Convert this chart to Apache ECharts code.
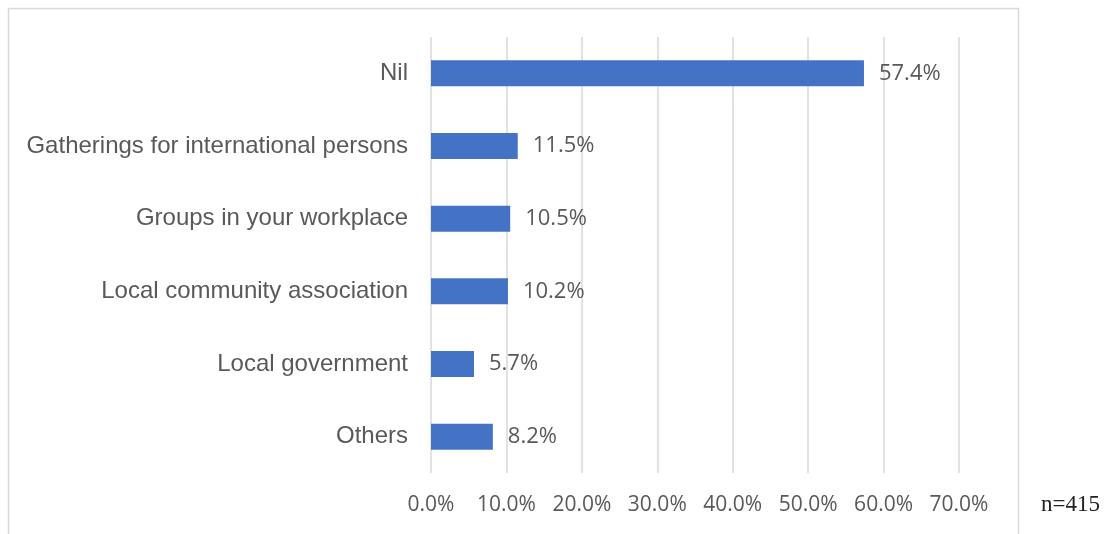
<!DOCTYPE html>
<html>
<head>
<meta charset="utf-8">
<script src="https://cdn.jsdelivr.net/npm/echarts@6/dist/echarts.min.js"></script>
<style>
  html, body { margin: 0; padding: 0; background: #fff; }
  #chart { width: 1107px; height: 534px; }
</style>
</head>
<body>
<div id="chart"></div>
<script>
const categories = [
  'Nil',
  'Gatherings for international persons',
  'Groups in your workplace',
  'Local community association',
  'Local government',
  'Others'
];
const shares = [57.4, 11.5, 10.5, 10.2, 5.7, 8.2];
const sampleNote = 'n=415';

const chart = echarts.init(document.getElementById('chart'));

const textColor = '#595959';
const gridColor = '#d9d9d9';

chart.setOption({
  animation: false,
  backgroundColor: '#fff',
  grid: {left: 431, right: 148, top: 37, bottom: 61},
  xAxis: {
    type: 'value',
    min: 0,
    max: 70,
    interval: 10,
    axisLine: {show: false},
    axisTick: {show: false},
    splitLine: {lineStyle: {color: gridColor, width: 1.5}},
    axisLabel: {
      color: textColor,
      fontFamily: 'Open Sans',
      fontSize: 21,
      margin: 22,
      formatter: v => v.toFixed(1) + '%'
    }
  },
  yAxis: {
    type: 'category',
    data: categories,
    inverse: true,
    axisLine: {show: false},
    axisTick: {show: false},
    axisLabel: {
      color: textColor,
      fontFamily: 'Liberation Sans',
      fontSize: 24,
      margin: 23
    }
  },
  series: [{
    type: 'bar',
    data: shares,
    barWidth: 26,
    itemStyle: {color: '#4472c4'},
    label: {
      show: true,
      position: 'right',
      distance: 15,
      color: textColor,
      fontFamily: 'Open Sans',
      fontSize: 22,
      formatter: p => p.value.toFixed(1) + '%'
    }
  }],
  graphic: [
    {
      type: 'rect',
      shape: {x: 8.5, y: 8.5, width: 1010, height: 540},
      style: {fill: 'none', stroke: '#d9d9d9', lineWidth: 1.5},
      silent: true
    },
    {
      type: 'text',
      left: 1041,
      top: 493,
      style: {
        text: sampleNote,
        font: '23px "Liberation Serif"',
        fill: '#222'
      }
    }
  ]
});
</script>
</body>
</html>
